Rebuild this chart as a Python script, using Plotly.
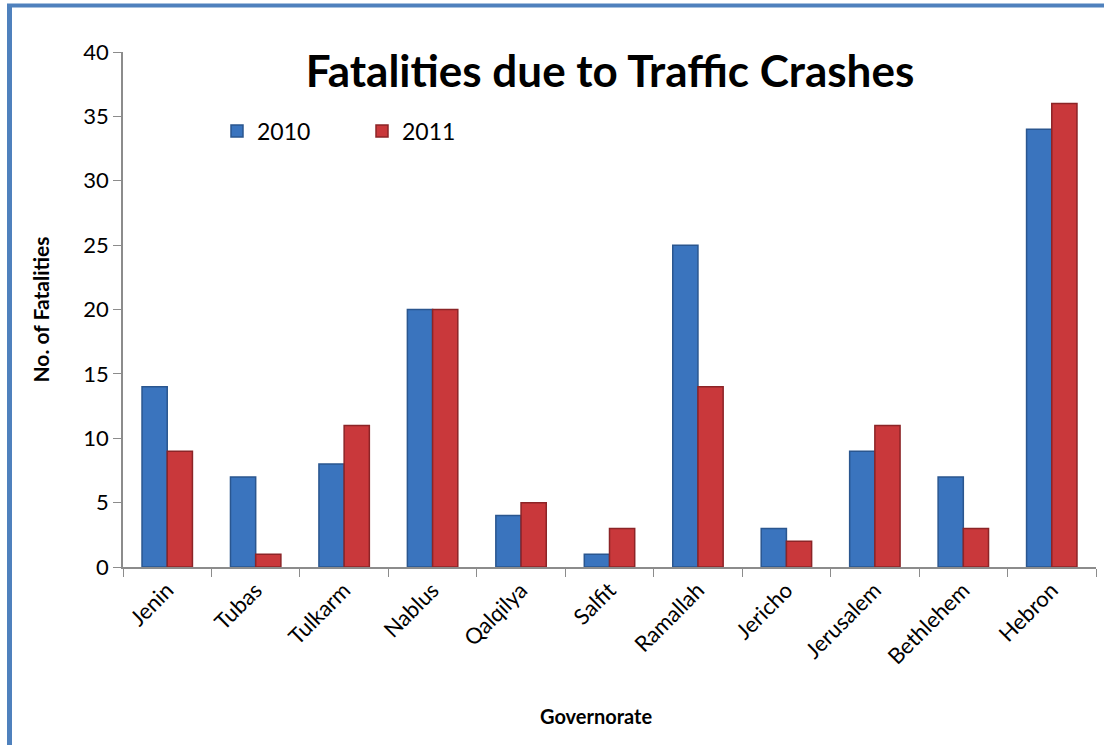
import plotly.graph_objects as go

# ── Data ─────────────────────────────────────────────────────────────────────
governorates = ["Jenin", "Tubas", "Tulkarm", "Nablus", "Qalqilya", "Salfit",
                "Ramallah", "Jericho", "Jerusalem", "Bethlehem", "Hebron"]
fatal_2010 = [14, 7, 8, 20, 4, 1, 25, 3, 9, 7, 34]
fatal_2011 = [9, 1, 11, 20, 5, 3, 14, 2, 11, 3, 36]
y_ticks = [0, 5, 10, 15, 20, 25, 30, 35, 40]

# ── Style ────────────────────────────────────────────────────────────────────
W, H = 1104, 745
ML, MR, MT, MB = 123, 8, 52, 178
PW, PH = W - ML - MR, H - MT - MB
_BLUE, _BLUE_EDGE = "#3A74BE", "#2A568F"
_RED, _RED_EDGE = "#C9383B", "#8C2427"
_BORDER = "#4F81BD"
_AXIS = "#8C8C8C"
_FONT = "Lato, 'Open Sans', sans-serif"


def px_x(p):
    return (p - ML) / PW


def px_y(p):
    return 1 - (p - MT) / PH


fig = go.Figure()
fig.add_trace(go.Bar(
    x=governorates, y=fatal_2010, name="2010",
    marker=dict(color=_BLUE, line=dict(color=_BLUE_EDGE, width=1.5)),
))
fig.add_trace(go.Bar(
    x=governorates, y=fatal_2011, name="2011",
    marker=dict(color=_RED, line=dict(color=_RED_EDGE, width=1.5)),
))

# frame lines on left and top
fig.add_shape(type="line", xref="paper", yref="paper",
              x0=px_x(9.5), x1=px_x(9.5), y0=px_y(4), y1=px_y(H),
              line=dict(color=_BORDER, width=5))
fig.add_shape(type="line", xref="paper", yref="paper",
              x0=px_x(7), x1=px_x(W), y0=px_y(5.5), y1=px_y(5.5),
              line=dict(color=_BORDER, width=4))

# x-axis title placed as annotation (sits left of plot centre in the original)
fig.add_annotation(text="<b>Governorate</b>", xref="paper", yref="paper",
                   x=px_x(596), y=px_y(716), showarrow=False,
                   xanchor="center", yanchor="middle", font=dict(size=20))

fig.update_layout(
    width=W, height=H,
    margin=dict(l=ML, r=MR, t=MT, b=MB),
    paper_bgcolor="white", plot_bgcolor="white",
    font=dict(family=_FONT, color="black", size=22),
    barmode="group", bargap=0.43, bargroupgap=0,
    title=dict(text="<b>Fatalities due to Traffic Crashes</b>",
               font=dict(size=44, family=_FONT),
               x=610 / W, xanchor="center", xref="container",
               y=1 - 72 / H, yanchor="middle", yref="container"),
    legend=dict(orientation="h", x=px_x(217), y=px_y(131),
                xanchor="left", yanchor="middle",
                entrywidth=100, entrywidthmode="pixels",
                font=dict(size=23), bgcolor="rgba(0,0,0,0)"),
    xaxis=dict(
        tickangle=-45, tickson="boundaries", ticks="outside", ticklen=8,
        tickcolor=_AXIS, showline=True, linecolor=_AXIS, linewidth=1.5,
        tickfont=dict(size=22), showgrid=False,
    ),
    yaxis=dict(
        title=dict(text="<b>No. of Fatalities</b>", font=dict(size=21), standoff=28),
        range=[0, 40], tickvals=y_ticks, ticks="outside", ticklen=8,
        tickcolor=_AXIS, showline=True, linecolor=_AXIS, linewidth=1.5,
        tickfont=dict(size=22), showgrid=False, zeroline=False,
    ),
)

fig.write_html("out.html", config={"displayModeBar": False},
               post_script="document.body.style.margin='0';")
